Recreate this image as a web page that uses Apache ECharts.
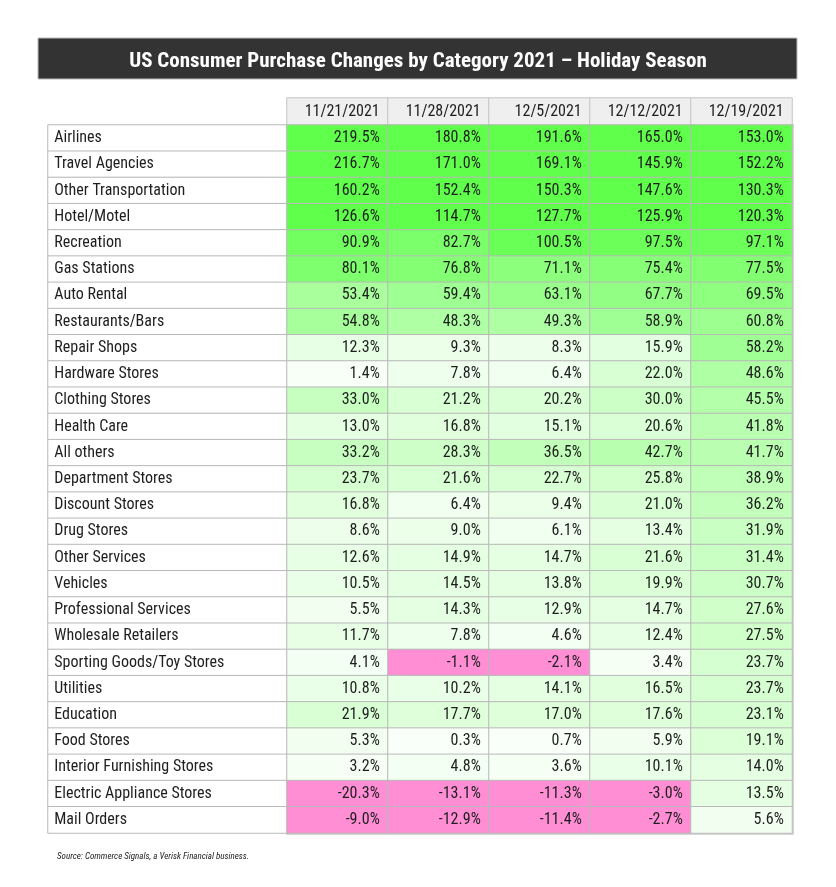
<!DOCTYPE html>
<html><head><meta charset="utf-8">
<script src="https://cdn.jsdelivr.net/npm/echarts@6/dist/echarts.min.js"></script>
<style>html,body{margin:0;padding:0;background:#fff}#c{width:836px;height:887px}</style>
</head><body><div id="c"></div>
<script>
const title = 'US Consumer Purchase Changes by Category 2021 \u2013 Holiday Season';
const source = 'Source: Commerce Signals, a Verisk Financial business.';
const dates = ['11/21/2021','11/28/2021','12/5/2021','12/12/2021','12/19/2021'];
const rows = ['Airlines','Travel Agencies','Other Transportation','Hotel/Motel','Recreation','Gas Stations','Auto Rental','Restaurants/Bars','Repair Shops','Hardware Stores','Clothing Stores','Health Care','All others','Department Stores','Discount Stores','Drug Stores','Other Services','Vehicles','Professional Services','Wholesale Retailers','Sporting Goods/Toy Stores','Utilities','Education','Food Stores','Interior Furnishing Stores','Electric Appliance Stores','Mail Orders'];
const v1121 = [219.5,216.7,160.2,126.6,90.9,80.1,53.4,54.8,12.3,1.4,33.0,13.0,33.2,23.7,16.8,8.6,12.6,10.5,5.5,11.7,4.1,10.8,21.9,5.3,3.2,-20.3,-9.0];
const v1128 = [180.8,171.0,152.4,114.7,82.7,76.8,59.4,48.3,9.3,7.8,21.2,16.8,28.3,21.6,6.4,9.0,14.9,14.5,14.3,7.8,-1.1,10.2,17.7,0.3,4.8,-13.1,-12.9];
const v1205 = [191.6,169.1,150.3,127.7,100.5,71.1,63.1,49.3,8.3,6.4,20.2,15.1,36.5,22.7,9.4,6.1,14.7,13.8,12.9,4.6,-2.1,14.1,17.0,0.7,3.6,-11.3,-11.4];
const v1212 = [165.0,145.9,147.6,125.9,97.5,75.4,67.7,58.9,15.9,22.0,30.0,20.6,42.7,25.8,21.0,13.4,21.6,19.9,14.7,12.4,3.4,16.5,17.6,5.9,10.1,-3.0,-2.7];
const v1219 = [153.0,152.2,130.3,120.3,97.1,77.5,69.5,60.8,58.2,48.6,45.5,41.8,41.7,38.9,36.2,31.9,31.4,30.7,27.6,27.5,23.7,23.7,23.1,19.1,14.0,13.5,5.6];
const columns = [v1121, v1128, v1205, v1212, v1219];

const FONT = '"Roboto Condensed","Liberation Sans Narrow","DejaVu Sans Condensed",Roboto,sans-serif';
const TXT = '#1e1e1e';
const BORDER = '#b9b9b9';

const valueData = [];
columns.forEach((col, ci) => col.forEach((v, ri) => valueData.push([ci, ri, v])));
const labelData = rows.map((r, ri) => [0, ri, 0]);
const headData = dates.map((d, ci) => [ci, 0, 0]);

function greenFor(v) {
  let t;
  if (v <= 85) t = v / 100; else if (v < 112) t = 0.85 + (v - 85) / 27 * 0.15; else t = 1;
  const a = [250, 255, 250], b = [96, 255, 75];
  const c = a.map((x, i) => Math.round(x + (b[i] - x) * t));
  return 'rgb(' + c.join(',') + ')';
}
const pieces = [{lt: 0, color: '#ff8ed5'}];
for (let a = 0; a < 112; a++) pieces.push({gte: a, lt: a + 1, color: greenFor(a + 0.5)});
pieces.push({gte: 112, color: greenFor(200)});

const L = 48, LW = 239, VL = 287, VW = 505, TOP = 125, H = 708, HTOP = 98, HH = 27;

const option = {
  animation: false,
  title: [{
    text: title, left: 'center', top: 46,
    textStyle: {color: '#fff', fontFamily: FONT, fontWeight: 'bold', fontSize: 21}
  }, {
    text: source, left: 52, top: 847,
    textStyle: {color: '#222', fontFamily: FONT, fontStyle: 'italic', fontWeight: 'normal', fontSize: 9}
  }],
  graphic: [
    {type: 'rect', z: -1, shape: {x: 38, y: 38, width: 759, height: 41}, style: {fill: '#333333', stroke: '#bdbdbd', lineWidth: 1}},
    {type: 'rect', z: -1, shape: {x: VL, y: TOP, width: VW + 1, height: H + 1}, style: {fill: 'none', stroke: '#d6d6d6', lineWidth: 2}}
  ],
  visualMap: {type: 'piecewise', show: false, seriesIndex: 2, dimension: 2, pieces: pieces},
  grid: [
    {left: L, top: TOP, width: LW, height: H},
    {left: VL, top: HTOP, width: VW, height: HH},
    {left: VL, top: TOP, width: VW, height: H}
  ],
  xAxis: [
    {type: 'category', gridIndex: 0, data: [''], show: false},
    {type: 'category', gridIndex: 1, data: dates, show: false},
    {type: 'category', gridIndex: 2, data: dates, show: false}
  ],
  yAxis: [
    {type: 'category', gridIndex: 0, data: rows, inverse: true, show: false},
    {type: 'category', gridIndex: 1, data: ['h'], show: false},
    {type: 'category', gridIndex: 2, data: rows, inverse: true, show: false}
  ],
  series: [
    {
      type: 'heatmap', xAxisIndex: 0, yAxisIndex: 0, data: labelData,
      itemStyle: {color: '#ffffff', borderColor: BORDER, borderWidth: 1},
      label: {show: true, position: 'insideLeft', distance: 7, color: TXT, fontFamily: FONT, fontSize: 16,
        formatter: p => rows[p.data[1]]},
      emphasis: {disabled: true}
    },
    {
      type: 'heatmap', xAxisIndex: 1, yAxisIndex: 1, data: headData,
      itemStyle: {color: '#efefef', borderColor: '#c4c4c4', borderWidth: 1},
      label: {show: true, position: 'insideRight', distance: 9, color: TXT, fontFamily: FONT, fontSize: 16,
        formatter: p => dates[p.data[0]]},
      emphasis: {disabled: true}
    },
    {
      type: 'heatmap', xAxisIndex: 2, yAxisIndex: 2, data: valueData,
      itemStyle: {borderColor: BORDER, borderWidth: 1},
      label: {show: true, position: 'insideRight', distance: 9, color: TXT, fontFamily: FONT, fontSize: 16,
        formatter: p => p.data[2].toFixed(1) + '%'},
      emphasis: {disabled: true}
    }
  ]
};
const chart = echarts.init(document.getElementById('c'), null, {renderer: 'canvas'});
chart.setOption(option);
</script></body></html>
